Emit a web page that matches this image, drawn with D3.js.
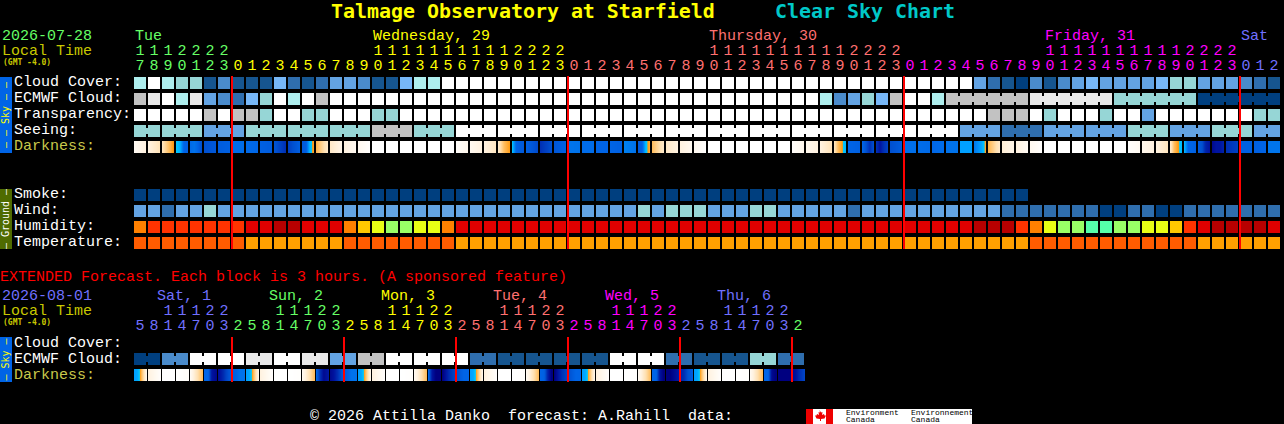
<!DOCTYPE html>
<html>
<head>
<meta charset="utf-8">
<title>Clear Sky Chart</title>
<script src="https://cdn.jsdelivr.net/npm/d3@7"></script>
<style>
  html, body { margin: 0; padding: 0; background: #000; overflow: hidden; }
  svg { display: block; }
  text { font-family: "Liberation Mono", monospace; white-space: pre; }
  text.heavy { font-family: "DejaVu Sans Mono", monospace; }
</style>
</head>
<body>
<svg id="canvas" width="1284" height="424"></svg>
<script>
// ************************************************************************************** //
// Data

// cloud style levels: 0 clear ... 10 overcast
var cloudCover = [
  3,0,3,4,4,9,7,9,9,9,
  5,8,9,8,6,6,7,9,9,5,
  3,3,0,0,0,0,0,0,0,0,
  0,0,0,0,0,0,0,0,0,0,
  0,0,0,0,0,0,0,0,0,0,
  0,0,0,0,0,0,0,0,0,0,
  6,8,9,10,7,9,7,6,5,6,
  6,6,6,5,4,4,6,6,6,7,
  8,9];
var ecmwfCloud = [
  2,1,0,3,1,6,7,8,5,4,
  0,3,0,2,0,0,0,0,0,0,
  0,0,0,0,0,0,0,0,0,0,
  0,0,0,0,0,0,0,0,0,0,
  0,0,0,0,0,0,0,0,0,3,
  7,6,4,5,2,0,0,3,2,2,
  2,2,2,2,1,1,1,1,1,1,
  4,4,4,4,4,4,10,10,10,10,
  10,10];
var transparency = [
  0,0,0,0,0,2,0,2,2,4,
  0,0,4,4,0,0,0,4,4,0,
  0,0,0,0,0,0,0,0,0,0,
  0,0,0,0,0,0,0,0,0,0,
  0,0,0,0,0,0,0,0,0,0,
  0,0,0,0,0,0,0,0,0,0,
  0,2,2,2,0,4,0,0,0,4,
  0,0,6,0,0,0,0,0,0,0,
  4,4];
var seeing = [
  4,4,4,4,4,6,6,6,4,4,
  4,4,4,4,4,4,4,2,2,2,
  4,4,4,0,0,0,0,0,0,0,
  0,0,0,0,0,0,0,0,0,0,
  0,0,0,0,0,0,0,0,0,0,
  0,0,0,0,0,0,0,0,0,6,
  6,6,8,8,8,6,6,6,6,6,
  6,4,4,4,6,6,6,4,4,4,
  6,6];
var smoke = [
  10,10,10,10,10,10,10,10,10,10,
  10,10,10,10,10,10,10,10,10,10,
  10,10,10,10,10,10,10,10,10,10,
  10,10,10,10,10,10,10,10,10,10,
  10,10,10,10,10,10,10,10,10,10,
  10,10,10,10,10,10,10,10,10,10,
  10,10,10,10];
var wind = [
  6,6,8,6,6,4,6,6,6,6,
  6,6,6,6,6,6,6,6,6,6,
  6,6,6,6,6,6,6,6,6,6,
  6,6,6,6,6,6,4,6,4,4,
  4,6,6,6,4,4,6,6,6,6,
  6,8,6,6,6,6,6,6,6,6,
  6,6,8,8,8,8,8,8,8,10,
  10,8,8,10,10,8,8,8,8,8,
  8,8];
var humidity = [
  85,90,90,90,90,90,90,90,95,95,
  100,100,95,95,95,85,80,75,70,70,
  75,75,85,95,95,95,95,95,95,95,
  95,95,95,95,95,95,95,95,95,95,
  95,95,95,95,95,95,95,95,95,95,
  95,95,95,95,95,95,95,95,95,95,
  100,100,100,90,85,75,70,70,65,65,
  70,70,75,75,80,90,95,100,100,100,
  100,95];
var temperature = [
  25,25,25,25,25,25,25,25,20,20,
  20,20,20,20,20,25,25,25,25,25,
  25,25,25,20,20,20,20,20,20,20,
  20,20,20,20,20,20,20,20,20,20,
  20,20,20,20,20,20,20,20,20,20,
  20,20,20,20,20,20,20,20,20,20,
  20,20,20,20,25,25,25,25,25,25,
  25,25,25,25,25,25,20,20,20,20,
  20,20];

// darkness: samples across each block, limiting magnitude style, -4 is daylight
var darkness = [
  [-3.6,-3],[-3,-2.2],[-2.2,-1.2,-0.2],[0,0.6,3,3.2],[2.8,2.5,3,4],[4,3.6],[3.4,3.2],[2.7,2.7],[2.8,2.9],[3.2,3.4],
  [3.8,5],[4.5,3.3],[3.5,3.3,0.4,-0.4],[-0.8,-2.5],[-2.5,-3.2],[-3,-3.5],[-3.5,-3.9],[-4,-4],[-4,-4],[-4,-4],
  [-4,-4],[-4,-4],[-4,-4],[-3.8,-3.4],[-3.5,-3],[-3,-2.4],[-2.5,-1,-0.3],[0.2,3,3.4,3.5],[3.2,4.2],[5,4],
  [3.7,3.2],[2.4,2.5],[2.7,2.7],[3,3],[3,3.2],[2,2.5],[3.5,3.2,0.2,-0.5],[-1,-2.5],[-2.5,-3],[-3,-3.5],
  [-3.5,-3.9],[-4,-4],[-4,-4],[-4,-4],[-4,-4],[-4,-4],[-4,-4],[-3.8,-3.4],[-3.4,-3],[-3,-2.2],
  [-2.2,-1,-0.3,0.4],[3,3.2],[3,4,5,4],[5,6,5,4.5],[4,3.4],[2.6,2.6],[2.7,2.8],[2.9,2.7],[2.5,2.5],[1,1],
  [2.2,1.5,0.8,-0.4],[-0.8,-2.5],[-2.8,-3.2],[-3,-3.6],[-3.5,-3.9],[-4,-4],[-4,-4],[-4,-4],[-4,-4],[-4,-4],
  [-4,-4],[-3.9,-3.6],[-3.4,-3],[-3,-2.3],[-2.5,-1,-0.3,0.3],[0.5,3,3,3.2],[3.5,4,5.5,6],[6.5,6,6,5.5],[5,4.5],[3.2,3.2],
  [3.2,3],[2.4,2.4]];

var hourLabels = [
  17,18,19,20,21,22,23,
  0,1,2,3,4,5,6,7,8,9,10,11,12,13,14,15,16,17,18,19,20,21,22,23,
  0,1,2,3,4,5,6,7,8,9,10,11,12,13,14,15,16,17,18,19,20,21,22,23,
  0,1,2,3,4,5,6,7,8,9,10,11,12,13,14,15,16,17,18,19,20,21,22,23,
  0,1,2];
var dayLabels = ['Tue', 'Wednesday, 29', 'Thursday, 30', 'Friday, 31', 'Sat'];
var dayLabelCols = [0, 17, 41, 65, 79];
var dayStartCols = [0, 7, 31, 55, 79];

var extEcmwf = [
  10,10,7,7,0,0,0,0,1,1,
  0,0,1,1,6,6,2,2,0,0,
  0,0,0,0,8,8,9,9,9,9,
  9,9,9,9,0,0,0,0,8,8,
  9,9,9,9,4,4,8,8];
var extDarkness = [
  [1,0.8,-0.2,-1.5,-2.8],[-3,-3.8],[-4,-4],[-4,-3.8],[-3.6,-2.8,-2,-1.2],[3,3,6,6.5],[6.3,5.5,4.5,3.8],[3.3,3,2.5,2.5],
  [1,0.8,-0.2,-1.5,-2.8],[-3,-3.8],[-4,-4],[-4,-3.9],[-3.5,-2.8,-2,-1.2],[3,5,6.5,6],[6.5,6,5,4],[3.5,3,2.5,2.5],
  [1,0.8,-0.2,-1.5,-2.8],[-3,-3.8],[-4,-4],[-4,-3.9],[-3.5,-2.8,-2,-1.2],[3,6,7,7],[7,6,5,4.5],[4,3.5,3,3],
  [1,0.8,-0.2,-1.5,-2.8],[-3,-3.8],[-4,-4],[-4,-3.9],[-3.5,-2.8,-2,-1.2],[3,3.2,5.5,7],[7,6,5,4.5],[4,3.5,3,3],
  [1,0.8,-0.2,-1.5,-2.8],[-3,-3.8],[-4,-4],[-4,-3.9],[-3.5,-2.8,-2,-1.2],[3,3,6,7],[7.2,7,6.5,6],[5.5,5,4,3.5],
  [1,0.8,-0.2,-1.5,-2.8],[-3,-3.8],[-4,-4],[-4,-3.9],[-3.5,-2.8,-2,-1.2],[3,3,6.5,7],[7.5,7.5,7,7],[6.5,6,5,4.5]];
var extHourLabels = [
  5,8,11,14,17,20,23,2,5,8,11,14,17,20,23,2,5,8,11,14,17,20,23,2,
  5,8,11,14,17,20,23,2,5,8,11,14,17,20,23,2,5,8,11,14,17,20,23,2];
var extDayLabels = ['Sat, 1', 'Sun, 2', 'Mon, 3', 'Tue, 4', 'Wed, 5', 'Thu, 6'];
var extDayCols = [0, 8, 16, 24, 32, 40];

var skyRows = ['Cloud Cover:', 'ECMWF Cloud:', 'Transparency:', 'Seeing:', 'Darkness:'];
var groundRows = ['Smoke:', 'Wind:', 'Humidity:', 'Temperature:'];
var extRows = ['Cloud Cover:', 'ECMWF Cloud:', 'Darkness:'];

// ************************************************************************************** //
// Scales

var GREEN = '#66ff66', YELLOW = '#ffff00', SALMON = '#ff7070', MAGENTA = '#ff00ff', PERI = '#7070ff';
var dayColors = [GREEN, YELLOW, SALMON, MAGENTA, PERI];
var extDayColors = [PERI, GREEN, YELLOW, SALMON, MAGENTA, PERI, GREEN];

var cloudColor = d3.scaleOrdinal()
  .domain([0,1,2,3,4,5,6,7,8,9,10])
  .range(['#ffffff','#e9e9e9','#c2c2c2','#aeeeee','#96d6d6','#77b7f7','#63a3e3','#4a8bcb','#2f6eae','#16558f','#003f7f']);
var humidityColor = d3.scaleOrdinal()
  .domain([100,95,90,85,80,75,70,65])
  .range(['#b80000','#e00000','#ff3300','#ff8000','#ffc800','#e8ff15','#99ff66','#55ffaa']);
var temperatureColor = d3.scaleOrdinal().domain([25,20]).range(['#ff5c00','#ffa000']);
var darknessColor = d3.scaleLinear()
  .domain([-4,-3,-2,-1,-0.2,0,1,2,3,4,5,6,7])
  .range(['#ffffff','#fff2e0','#ffe0b0','#ffbe60','#ff9a10','#00c8ff','#00a0ff','#0080f0','#0064e6','#0050d0','#0030b4','#0014a0','#000080'])
  .clamp(true);

var colX = d3.scaleBand().domain(d3.range(82)).range([134, 134 + 82*14 - 2]).paddingInner(2/14);
var extX = d3.scaleBand().domain(d3.range(48)).range([134, 134 + 48*14 - 2]).paddingInner(2/14);
var skyY = d3.scaleBand().domain(skyRows).range([77, 77 + 5*16 - 4]).paddingInner(4/16);
var groundY = d3.scaleBand().domain(groundRows).range([189, 189 + 4*16 - 4]).paddingInner(4/16);
var extY = d3.scaleBand().domain(extRows).range([337, 337 + 3*16 - 4]).paddingInner(4/16);

var svg = d3.select('#canvas');

// ************************************************************************************** //
// Helpers

// small attrs helper, plain d3 has no .attrs
d3.selection.prototype.attrs_ = function(o){
  for(var k in o){ this.attr(k, o[k]); }
  return this;
};

function addText(x, y, str, size, fill, weight){
  return svg.append('text').attrs_({ x: x, y: y, 'font-size': size, fill: fill, 'font-weight': weight || 'normal' }).text(str);
}

function drawBlocks(x, y, values, color){
  svg.append('g').selectAll('rect').data(values).join('rect')
    .attr('x', function(d, i){ return x(i); })
    .attr('y', y)
    .attr('width', x.bandwidth())
    .attr('height', 12)
    .attr('fill', function(d){ return color(d); });
}

// groups is a list of column lists that share one forecast value, joined by a neck
function drawNecks(x, y, values, color, groups){
  var necks = [];
  groups.forEach(function(g){
    d3.pairs(g).forEach(function(p){ necks.push(p[0]); });
  });
  svg.append('g').selectAll('rect').data(necks).join('rect')
    .attr('x', function(d){ return x(d) + x.bandwidth(); })
    .attr('y', y + 3)
    .attr('width', 2)
    .attr('height', 6)
    .attr('fill', function(d){ return color(values[d]); });
}

function chunkCols(start, end, size){
  var out = [];
  for(var c = start; c <= end; c += size){
    out.push(d3.range(c, Math.min(c + size, end + 1)));
  }
  return out;
}

function drawDarkness(x, y, samples){
  var slices = [];
  samples.forEach(function(s, i){
    var t = d3.scaleLinear().domain(s.map(function(v, j){ return j*(x.bandwidth()-1)/(s.length-1); })).range(s);
    d3.range(x.bandwidth()).forEach(function(px){ slices.push({ col: i, px: px, v: t(px) }); });
  });
  svg.append('g').selectAll('rect').data(slices).join('rect')
    .attr('x', function(d){ return x(d.col) + d.px; })
    .attr('y', y)
    .attr('width', 1)
    .attr('height', 12)
    .attr('fill', function(d){ return darknessColor(d.v); });
}

function drawRowLabels(rows, y, baseOffset){
  rows.forEach(function(r){
    addText(14, y(r) + baseOffset, r, 15, r == 'Darkness:' ? '#c8c84b' : '#ffffff');
  });
}

function drawSideBar(y0, y1, fill, textFill, label){
  svg.append('rect').attrs_({ x: 0, y: y0, width: 12, height: y1 - y0, fill: fill });
  var mid = (y0 + y1)/2;
  svg.append('text')
    .attr('class', 'heavy')
    .attrs_({ transform: 'translate(9,' + mid + ') rotate(-90)', 'text-anchor': 'middle', 'font-size': 10, fill: textFill })
    .text(label);
}

function drawHourRows(x, labels, colorOf, tensY, unitsY){
  labels.forEach(function(h, i){
    var cx = x(i) + x.bandwidth()/2;
    var c = colorOf(i);
    if(h >= 10){
      addText(cx, tensY, String(Math.floor(h/10)), 15, c).attr('text-anchor', 'middle');
    }
    addText(cx, unitsY, String(h % 10), 15, c).attr('text-anchor', 'middle');
  });
}

function drawMidnights(x, cols, y0, y1){
  svg.append('g').selectAll('rect').data(cols).join('rect')
    .attr('x', function(d){ return x(d) - 1; })
    .attr('y', y0)
    .attr('width', 2)
    .attr('height', y1 - y0)
    .attr('fill', '#ff0000');
}

// ************************************************************************************** //
// Header

addText(331, 18, 'Talmage Observatory at Starfield', 19.93, '#ffff00', 'bold').attr('class', 'heavy');
addText(775, 18, 'Clear Sky Chart', 19.93, '#00c8c8', 'bold').attr('class', 'heavy');

addText(2, 40, '2026-07-28', 15, GREEN);
addText(2, 55, 'Local Time', 15, '#c8c800');
addText(3, 65, '(GMT -4.0)', 8, '#c8c800', 'bold').attr('class', 'heavy');

dayLabels.forEach(function(d, i){
  addText(colX(dayLabelCols[i]) + 1, 40, d, 15, dayColors[i]);
});
drawHourRows(colX, hourLabels, function(i){
  return dayColors[d3.bisectRight(dayStartCols, i) - 1];
}, 55, 70);

// ************************************************************************************** //
// Sky and ground blocks

drawBlocks(colX, skyY('Cloud Cover:'), cloudCover, cloudColor);
drawBlocks(colX, skyY('ECMWF Cloud:'), ecmwfCloud, cloudColor);
drawNecks(colX, skyY('ECMWF Cloud:'), ecmwfCloud, cloudColor, chunkCols(58, 81, 6));
drawBlocks(colX, skyY('Transparency:'), transparency, cloudColor);
drawBlocks(colX, skyY('Seeing:'), seeing, cloudColor);
drawNecks(colX, skyY('Seeing:'), seeing, cloudColor, [[0, 1]].concat(chunkCols(2, 81, 3)));
drawDarkness(colX, skyY('Darkness:'), darkness);

drawBlocks(colX, groundY('Smoke:'), smoke, cloudColor);
drawBlocks(colX, groundY('Wind:'), wind, cloudColor);
drawBlocks(colX, groundY('Humidity:'), humidity, humidityColor);
drawBlocks(colX, groundY('Temperature:'), temperature, temperatureColor);

drawRowLabels(skyRows, skyY, 9);
drawRowLabels(groundRows, groundY, 9);
drawSideBar(77, 153, '#0064e6', '#ffff00', '\u2014 \u2014 Sky \u2014 \u2014');
drawSideBar(189, 249, '#4f6b00', '#ffffff', '\u2014 Ground \u2014');

drawMidnights(colX, [7, 31, 55, 79], 76, 249);

// ************************************************************************************** //
// Extended forecast

addText(0, 281, 'EXTENDED Forecast. Each block is 3 hours. (A sponsored feature)', 15, '#ff0000');
addText(2, 300, '2026-08-01', 15, PERI);
addText(2, 315, 'Local Time', 15, '#c8c800');
addText(3, 325, '(GMT -4.0)', 8, '#c8c800', 'bold').attr('class', 'heavy');

extDayLabels.forEach(function(d, i){
  addText(extX(extDayCols[i]) + 23, 300, d, 15, extDayColors[i]);
});
// the 02h block already belongs to the next day's colour
drawHourRows(extX, extHourLabels, function(i){
  return extDayColors[Math.floor((i + 1)/8)];
}, 315, 330);

drawBlocks(extX, extY('ECMWF Cloud:'), extEcmwf, cloudColor);
drawNecks(extX, extY('ECMWF Cloud:'), extEcmwf, cloudColor, chunkCols(0, 47, 2));
drawDarkness(extX, extY('Darkness:'), extDarkness);
drawRowLabels(extRows, extY, 10);
drawSideBar(337, 382, '#0064e6', '#ffff00', '\u2014 Sky \u2014');
drawMidnights(extX, [7, 15, 23, 31, 39, 47], 337, 382);

// ************************************************************************************** //
// Footer

addText(310, 420, '\u00a9 2026 Attilla Danko  forecast: A.Rahill  data:', 15, '#ffffff');

svg.append('rect').attrs_({ x: 806, y: 409, width: 166, height: 15, fill: '#ffffff' });
svg.append('rect').attrs_({ x: 806, y: 409, width: 7, height: 15, fill: '#ee0000' });
svg.append('rect').attrs_({ x: 826, y: 409, width: 7, height: 15, fill: '#ee0000' });
svg.append('path')
  .attr('d', 'M819.5 410 l1.5 2.5 1.5 -0.5 -0.5 3 2 -1 0.5 1.5 1.5 0 -1.5 3 -3.5 0.5 0 2 -1 0 0 -2 -3.5 -0.5 -1.5 -3 1.5 0 0.5 -1.5 2 1 -0.5 -3 1.5 0.5 z')
  .attr('fill', '#ee0000');
addText(846, 415, 'Environment', 8, '#000000');
addText(846, 422, 'Canada', 8, '#000000');
addText(911, 415, 'Environnement', 8, '#000000');
addText(911, 422, 'Canada', 8, '#000000');
</script>
</body>
</html>
